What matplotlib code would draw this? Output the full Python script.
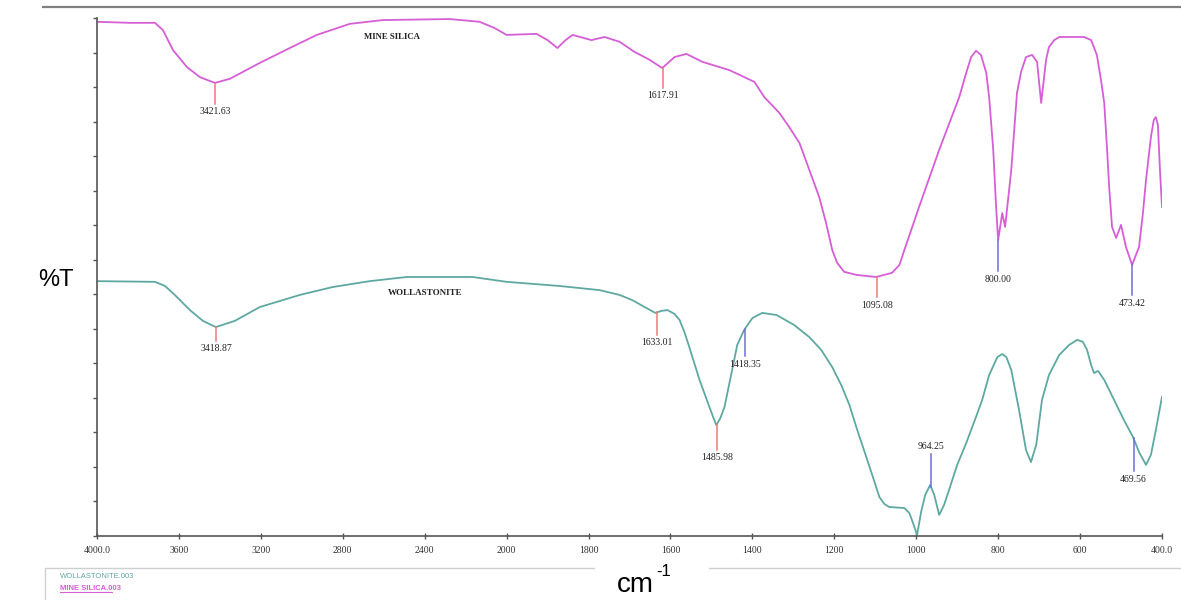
import numpy as np
import matplotlib
matplotlib.use("Agg")
import matplotlib.pyplot as plt
from matplotlib.lines import Line2D
from matplotlib.patches import Rectangle

# ---------------- data ----------------
silica_wn = [4000, 3839, 3717, 3678, 3629, 3561, 3498, 3424, 3351, 3205, 3059, 2927, 2766, 2605,
             2278, 2132, 2059, 2000, 1927, 1900, 1876, 1856, 1839, 1793, 1761, 1724, 1688,
             1651, 1620, 1590, 1561, 1522, 1456, 1395, 1371, 1334, 1310, 1285, 1261, 1237, 1220,
             1205, 1193, 1176, 1146, 1098, 1059, 1041, 1029, 993, 944, 895, 878, 866, 854, 842,
             829, 822, 812, 805, 800, 790, 783, 768, 754, 744, 732, 717, 705, 695, 683, 676, 663,
             651, 590, 573, 559, 549, 541, 534, 529, 522, 512, 500, 488, 473, 456, 447, 439, 427,
             420, 415, 410, 405, 400]
silica_t = [148.9, 148.6, 148.6, 146.5, 140.7, 135.8, 132.9, 131.2, 132.4, 137.0, 141.3, 145.1, 148.3, 149.4,
            149.7, 148.9, 147.1, 145.1, 145.4, 143.6, 141.3, 143.6, 145.1, 143.6, 144.5, 143.1, 140.2,
            137.9, 135.5, 138.7, 139.6, 137.3, 134.9, 131.5, 127.1, 122.5, 118.4, 113.8, 106.0, 98.2, 90.6,
            82.8, 79.1, 76.5, 75.6, 75.0, 76.2, 78.5, 82.8, 95.3, 111.8, 127.1, 134.1, 138.7, 140.5, 139.3,
            134.1, 127.1, 111.8, 95.3, 85.7, 93.5, 89.5, 106.0, 128.3, 134.4, 138.7, 139.3, 137.3, 125.4, 137.9, 141.6, 143.6,
            144.5, 144.5, 143.6, 139.3, 132.1, 125.4, 111.8, 101.1, 89.5, 86.3, 90.1, 83.7, 78.5, 83.7, 93.0, 103.1, 115.6,
            120.5, 121.3, 119.0, 106.0, 95.3]

woll_wn = [4000, 3717, 3668, 3620, 3546, 3483, 3420, 3327, 3205, 3010, 2849, 2668, 2488, 2166, 2000,
           1871, 1773, 1724, 1693, 1663, 1637, 1622, 1607, 1590, 1578, 1566, 1554, 1529, 1505, 1495,
           1488, 1478, 1468, 1451, 1437, 1420, 1400, 1376, 1341, 1298, 1261, 1232, 1205, 1183, 1163,
           1144, 1122, 1105, 1090, 1078, 1066, 1029, 1017, 1007, 998, 988, 978, 966, 956, 944, 932,
           920, 900, 878, 854, 839, 822, 802, 790, 780, 768, 749, 732, 720, 707, 693, 676, 651, 627,
           607, 593, 583, 573, 566, 556, 541, 517, 493, 471, 456, 439, 427, 415, 400]
woll_t = [73.8, 73.6, 72.4, 69.8, 65.4, 62.3, 60.5, 62.3, 66.3, 69.8, 72.1, 73.8, 75.0, 75.0, 73.6,
          72.4, 71.2, 69.8, 68.3, 66.3, 64.6, 65.2, 65.4, 64.3, 62.6, 59.1, 54.7, 45.2, 37.4, 34.2,
          32.1, 34.2, 37.4, 47.2, 55.3, 59.7, 63.1, 64.6, 64.0, 61.1, 57.6, 53.9, 48.9, 43.7, 37.9,
          30.7, 22.9, 16.8, 11.3, 9.3, 8.4, 8.1, 6.7, 3.5, 0.3, 7.0, 11.9, 14.8, 11.9, 6.1, 9.0,
          13.3, 20.6, 26.9, 34.5, 39.4, 46.6, 51.8, 52.7, 51.8, 48.1, 36.5, 24.9, 21.4, 26.4, 39.4, 46.6, 52.4, 55.3,
          56.8, 56.2, 53.9, 49.5, 47.2, 47.8, 45.2, 39.4, 33.6, 28.7, 24.3, 20.6, 23.5, 30.7, 40.3]

silica_peaks = [3421.63, 1617.91, 1095.08, 800.00, 473.42]
silica_peak_kind = ["r", "r", "r", "b", "b"]
silica_peak_len = [6.0, 6.0, 6.0, 9.0, 9.0]
woll_peaks = [3418.87, 1633.01, 1485.98, 1418.35, 964.25, 469.56]
woll_peak_kind = ["r", "r", "r", "b", "b", "b"]
woll_peak_len = [4.0, 6.5, 7.5, 8.0, -9.5, 9.5]

xticks = [4000, 3600, 3200, 2800, 2400, 2000, 1800, 1600, 1400, 1200, 1000, 800, 600, 400]
xtick_labels = ["4000.0", "3600", "3200", "2800", "2400", "2000", "1800", "1600", "1400",
                "1200", "1000", "800", "600", "400.0"]

SILICA_C = "#d65ed6"
WOLL_C = "#5ea8a2"
RED_C = "#f07878"
BLUE_C = "#6f6fd2"

# ---------------- split wavenumber scale (x2 expansion below 2000) ----------------
def fwd(w):
    w = np.asarray(w, dtype=float)
    return np.where(w <= 2000, w, 2000 + (w - 2000) / 2.0)

def inv(u):
    u = np.asarray(u, dtype=float)
    return np.where(u <= 2000, u, 2000 + (u - 2000) * 2.0)

fig = plt.figure(figsize=(11.81, 6.0), dpi=100)
ax = fig.add_axes([97 / 1181, 64 / 600, (1162 - 97) / 1181, (536 - 18) / 600])
ax.set_xscale("function", functions=(fwd, inv))
ax.set_xlim(4000, 400)
ax.set_ylim(0, 150)

ax.plot(silica_wn, silica_t, color=SILICA_C, lw=1.3, solid_joinstyle="round")
ax.plot(woll_wn, woll_t, color=WOLL_C, lw=1.3, solid_joinstyle="round")

serif = ["Liberation Serif", "DejaVu Serif"]

def mark(wn_list, t_wn, t_val, kinds, lens):
    xs = np.array(t_wn)[::-1]
    ys = np.array(t_val)[::-1]
    for p, k, L in zip(wn_list, kinds, lens):
        yv = np.interp(p, xs, ys)
        c = RED_C if k == "r" else BLUE_C
        ax.plot([p, p], [yv, yv - L], color=c, lw=1.1)
        if L > 0:
            ax.text(p, yv - L - 1.0, f"{p:.2f}", ha="center", va="top", fontsize=7,
                    family=serif, color="#222222")
        else:
            ax.text(p, yv - L + 0.8, f"{p:.2f}", ha="center", va="bottom", fontsize=7,
                    family=serif, color="#222222")

mark(silica_peaks, silica_wn, silica_t, silica_peak_kind, silica_peak_len)
mark(woll_peaks, woll_wn, woll_t, woll_peak_kind, woll_peak_len)

ax.text(2560, 144.5, "MINE SILICA", ha="center", va="center", fontsize=6.3,
        family=serif, fontweight="bold", color="#222222")
ax.text(2400, 70.5, "WOLLASTONITE", ha="center", va="center", fontsize=6.5,
        family=serif, fontweight="bold", color="#222222")

# axes styling
for s in ["top", "right"]:
    ax.spines[s].set_visible(False)
for s in ["left", "bottom"]:
    ax.spines[s].set_color("#555555")
    ax.spines[s].set_linewidth(1.2)
ax.set_xticks(xticks)
ax.set_xticklabels(xtick_labels, family=serif, fontsize=7, color="#333333")
ax.xaxis.set_minor_locator(matplotlib.ticker.NullLocator())
ax.tick_params(axis="x", direction="inout", length=4, width=1, color="#555555", pad=5)
ax.set_yticks(np.arange(0, 151, 10))
ax.set_yticklabels([])
ax.tick_params(axis="y", direction="out", length=3, width=1, color="#555555")

# figure decorations
fig.add_artist(Line2D([43 / 1181, 1.0], [1 - 7 / 600, 1 - 7 / 600], color="#808080", lw=1.6))
fig.add_artist(Rectangle((45 / 1181, -0.02), 1.0, (600 - 568) / 600 + 0.02, fill=False,
                         edgecolor="#cfcfcf", lw=1.0))
fig.text(60 / 1181, 1 - 576 / 600, "WOLLASTONITE.003", fontsize=5.5, color=WOLL_C,
         va="center", ha="left", family=["Liberation Sans", "DejaVu Sans"])
fig.text(60 / 1181, 1 - 588 / 600, "MINE SILICA.003", fontsize=5.5, color=SILICA_C,
         va="center", ha="left", family=["Liberation Sans", "DejaVu Sans"], fontweight="bold")
fig.add_artist(Line2D([60 / 1181, 112 / 1181], [1 - 592 / 600, 1 - 592 / 600], color=SILICA_C, lw=0.8))

fig.add_artist(Rectangle((595 / 1181, 0), (709 - 595) / 1181, (600 - 561) / 600,
                         facecolor="white", edgecolor="none"))
sans = ["Liberation Sans", "DejaVu Sans"]
fig.text(654 / 1181, 1 - 585 / 600, "cm", fontsize=20, ha="right", va="center", family=sans)
fig.text(656 / 1181, 1 - 572 / 600, "-1", fontsize=12, ha="left", va="center", family=sans)
fig.text(56 / 1181, 1 - 280 / 600, "%T", fontsize=17, ha="center", va="center", family=sans)

fig.savefig("out.png", dpi=100)
